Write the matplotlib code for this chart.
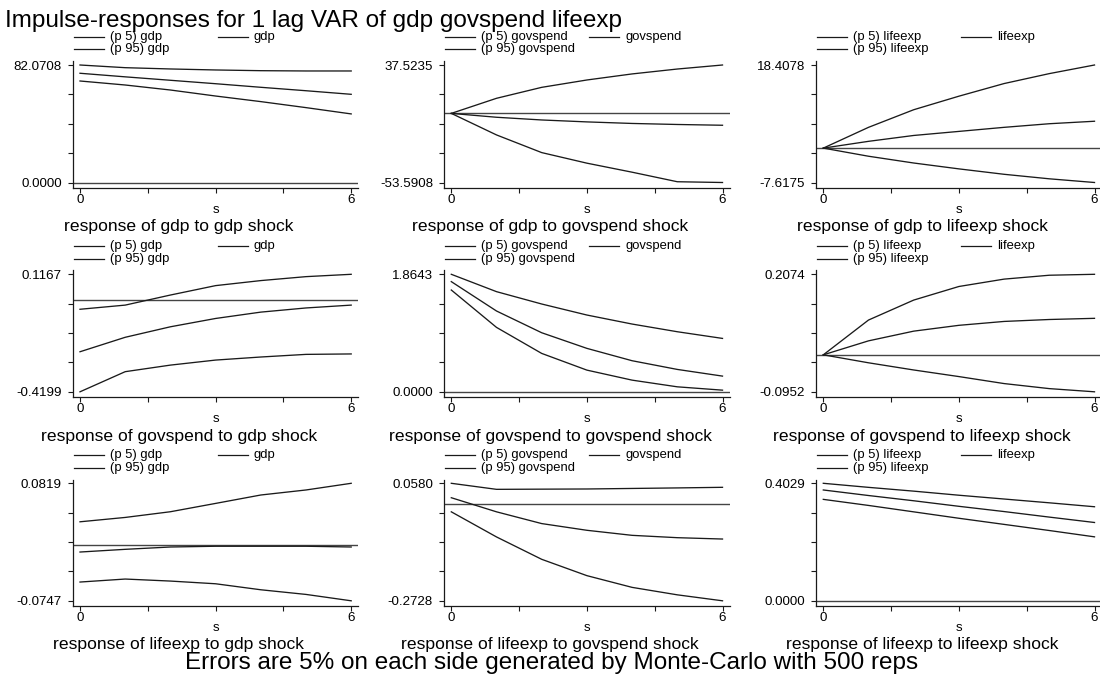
import matplotlib
matplotlib.use("Agg")
import matplotlib.pyplot as plt

plt.rcParams['font.family'] = ['Liberation Sans', 'DejaVu Sans']

steps = [0, 1, 2, 3, 4, 5, 6]
variables = ["gdp", "govspend", "lifeexp"]

# response of gdp
gdp_to_gdp_p5 = [70.9, 68.1, 64.6, 60.4, 56.5, 52.3, 47.9]
gdp_to_gdp_irf = [76.3, 73.8, 71.4, 69.0, 66.5, 64.1, 61.6]
gdp_to_gdp_p95 = [82.0708, 80.2, 79.3, 78.6, 78.1, 77.9, 77.9]

gdp_to_govspend_p5 = [0, -16.7, -30.4, -38.6, -45.6, -53.0, -53.5908]
gdp_to_govspend_irf = [0, -3.0, -5.1, -6.6, -7.8, -8.6, -9.2]
gdp_to_govspend_p95 = [0, 11.7, 20.2, 25.9, 30.6, 34.4, 37.5235]

gdp_to_lifeexp_p5 = [0, -1.8, -3.3, -4.6, -5.8, -6.8, -7.6175]
gdp_to_lifeexp_irf = [0, 1.5, 2.8, 3.7, 4.6, 5.4, 5.95]
gdp_to_lifeexp_p95 = [0, 4.6, 8.5, 11.5, 14.3, 16.5, 18.4078]

# response of govspend
govspend_to_gdp_p5 = [-0.4199, -0.328, -0.298, -0.275, -0.261, -0.249, -0.247]
govspend_to_gdp_irf = [-0.237, -0.171, -0.123, -0.085, -0.056, -0.037, -0.024]
govspend_to_gdp_p95 = [-0.043, -0.024, 0.022, 0.065, 0.088, 0.106, 0.1167]

govspend_to_govspend_p5 = [1.615, 1.022, 0.609, 0.344, 0.185, 0.079, 0.026]
govspend_to_govspend_irf = [1.748, 1.282, 0.937, 0.689, 0.493, 0.355, 0.249]
govspend_to_govspend_p95 = [1.8643, 1.589, 1.393, 1.218, 1.075, 0.953, 0.847]

govspend_to_lifeexp_p5 = [0, -0.0205, -0.039, -0.056, -0.074, -0.087, -0.0952]
govspend_to_lifeexp_irf = [0, 0.036, 0.061, 0.076, 0.086, 0.091, 0.094]
govspend_to_lifeexp_p95 = [0, 0.0896, 0.141, 0.176, 0.195, 0.205, 0.2074]

# response of lifeexp
lifeexp_to_gdp_p5 = [-0.0497, -0.0457, -0.0484, -0.052, -0.060, -0.0662, -0.0747]
lifeexp_to_gdp_irf = [-0.0097, -0.0061, -0.003, -0.002, -0.002, -0.002, -0.003]
lifeexp_to_gdp_p95 = [0.0306, 0.0364, 0.044, 0.0551, 0.0663, 0.073, 0.0819]

lifeexp_to_govspend_p5 = [-0.0223, -0.093, -0.156, -0.202, -0.235, -0.256, -0.2728]
lifeexp_to_govspend_irf = [0.0174, -0.0223, -0.0554, -0.0743, -0.0885, -0.0951, -0.0989]
lifeexp_to_govspend_p95 = [0.0580, 0.041, 0.0415, 0.042, 0.0435, 0.045, 0.0467]

lifeexp_to_lifeexp_p5 = [0.3478, 0.327, 0.305, 0.283, 0.262, 0.241, 0.2193]
lifeexp_to_lifeexp_irf = [0.380, 0.361, 0.343, 0.324, 0.306, 0.287, 0.2685]
lifeexp_to_lifeexp_p95 = [0.4029, 0.389, 0.376, 0.362, 0.349, 0.336, 0.3225]

panels = {
    ("gdp", "gdp"): (gdp_to_gdp_p5, gdp_to_gdp_irf, gdp_to_gdp_p95),
    ("gdp", "govspend"): (gdp_to_govspend_p5, gdp_to_govspend_irf, gdp_to_govspend_p95),
    ("gdp", "lifeexp"): (gdp_to_lifeexp_p5, gdp_to_lifeexp_irf, gdp_to_lifeexp_p95),
    ("govspend", "gdp"): (govspend_to_gdp_p5, govspend_to_gdp_irf, govspend_to_gdp_p95),
    ("govspend", "govspend"): (govspend_to_govspend_p5, govspend_to_govspend_irf, govspend_to_govspend_p95),
    ("govspend", "lifeexp"): (govspend_to_lifeexp_p5, govspend_to_lifeexp_irf, govspend_to_lifeexp_p95),
    ("lifeexp", "gdp"): (lifeexp_to_gdp_p5, lifeexp_to_gdp_irf, lifeexp_to_gdp_p95),
    ("lifeexp", "govspend"): (lifeexp_to_govspend_p5, lifeexp_to_govspend_irf, lifeexp_to_govspend_p95),
    ("lifeexp", "lifeexp"): (lifeexp_to_lifeexp_p5, lifeexp_to_lifeexp_irf, lifeexp_to_lifeexp_p95),
}

W, H = 1100, 681
fig = plt.figure(figsize=(W / 100, H / 100), dpi=100)
fig.patch.set_facecolor("white")

def fx(px):
    return px / W

def fy(py):
    return 1 - py / H

# layout in pixels
spine_x = [72.7, 444.0, 816.0]
top_val_y = [65.0, 274.3, 483.3]
step_px = 45.2
x_off = 7.3
x_right = 6.16
span_px = 117.5
below_px = 5.4
above_px = 3.8
ink = "#1a1a1a"

for r, resp in enumerate(variables):
    for c, imp in enumerate(variables):
        p5, irf, p95 = panels[(resp, imp)]
        lo = min(min(p5), min(irf), min(p95), 0)
        hi = max(max(p5), max(irf), max(p95), 0)
        rng = hi - lo

        left = spine_x[c]
        top = top_val_y[r] - above_px
        width = (x_off / step_px + x_right) * step_px
        height = span_px + above_px + below_px
        ax = fig.add_axes([fx(left), fy(top + height), width / W, height / H])
        ax.set_xlim(-x_off / step_px, x_right)
        ax.set_ylim(lo - below_px / span_px * rng, hi + above_px / span_px * rng)

        ax.axhline(0, color="#444444", lw=1.0, zorder=1)
        ax.plot(steps, p5, color=ink, lw=0.95)
        ax.plot(steps, irf, color=ink, lw=0.95)
        ax.plot(steps, p95, color=ink, lw=0.95)

        for s in ["top", "right"]:
            ax.spines[s].set_visible(False)
        for s in ["left", "bottom"]:
            ax.spines[s].set_color(ink)
            ax.spines[s].set_linewidth(0.9)

        yt = [lo + i * rng / 4 for i in range(5)]
        ax.set_yticks(yt)
        ax.set_yticklabels(["%.4f" % lo, "", "", "", "%.4f" % hi])
        ax.set_xticks([0, 1.5, 3, 4.5, 6])
        ax.set_xticklabels(["0", "", "", "", "6"])
        ax.tick_params(axis="both", direction="out", length=3.3, width=0.8,
                       color=ink, labelsize=9.6, labelcolor="black")
        ax.tick_params(axis="y", pad=4.6)
        ax.tick_params(axis="x", pad=1.2)

        x0 = left + x_off
        fig.text(fx(x0 + 3 * step_px), fy(213.3 + 209 * r), "s",
                 ha="center", va="baseline", fontsize=9.5)
        fig.text(fx(left + 106), fy(231.5 + 209 * r),
                 "response of %s to %s shock" % (resp, imp),
                 ha="center", va="baseline", fontsize=12.6)

        # legend above each panel
        ly1 = top_val_y[r] - 28.3
        ly2 = top_val_y[r] - 15.7
        leg = [("(p 5) %s" % imp, 0, ly1), (imp, 144, ly1), ("(p 95) %s" % imp, 0, ly2)]
        for label, dx, ly in leg:
            fig.add_artist(plt.Line2D([fx(left + dx + 1), fx(left + dx + 31)],
                                      [fy(ly), fy(ly)], color=ink, lw=0.9))
            fig.text(fx(left + dx + 37), fy(ly), label, ha="left", va="center",
                     fontsize=9.4)

fig.text(fx(5), fy(27.5), "Impulse-responses for 1 lag VAR of gdp govspend lifeexp",
         ha="left", va="baseline", fontsize=17.5)
fig.text(fx(552), fy(669), "Errors are 5% on each side generated by Monte-Carlo with 500 reps",
         ha="center", va="baseline", fontsize=17.5)

fig.savefig("out.png", dpi=100, facecolor="white")
